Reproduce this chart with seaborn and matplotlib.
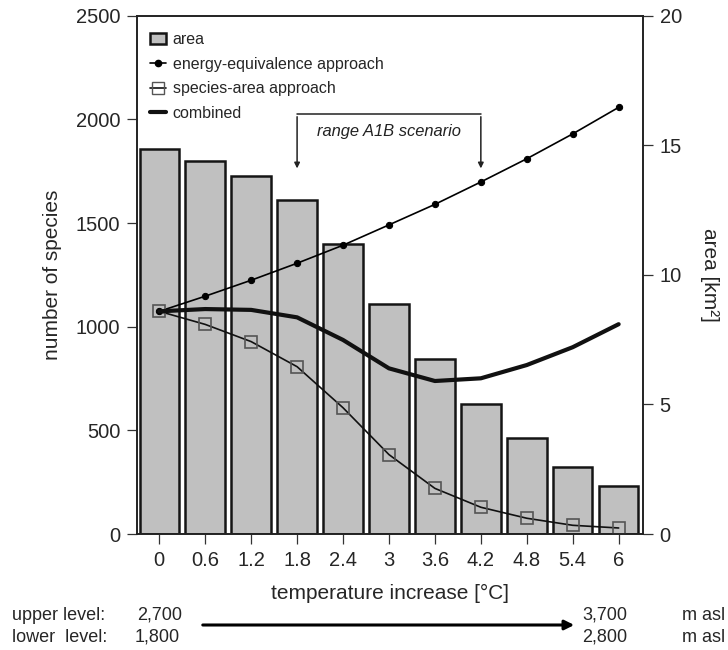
import numpy as np
import pandas as pd
import matplotlib
matplotlib.use("Agg")
import matplotlib.pyplot as plt
from matplotlib.lines import Line2D
from matplotlib.patches import Patch
import seaborn as sns

## Data
temps = [0, 0.6, 1.2, 1.8, 2.4, 3, 3.6, 4.2, 4.8, 5.4, 6]
temp_labels = ["0", "0.6", "1.2", "1.8", "2.4", "3", "3.6", "4.2", "4.8", "5.4", "6"]
area_km2 = [14.85, 14.40, 13.80, 12.89, 11.20, 8.87, 6.74, 5.02, 3.69, 2.59, 1.86]
energy_equiv = [1074, 1147, 1224, 1306, 1393, 1491, 1590, 1698, 1810, 1930, 2058]
species_area = [1074, 1011, 928, 807, 609, 383, 220, 129, 76, 42, 29]
combined = [1074, 1085, 1081, 1045, 936, 799, 738, 751, 815, 901, 1012]

df = pd.DataFrame({"temp": temps, "area": area_km2, "energy": energy_equiv,
                   "sa": species_area, "comb": combined})

sns.set_style("ticks")
plt.rcParams["font.family"] = ["Liberation Sans", "DejaVu Sans"]

fig = plt.figure(figsize=(7.28, 6.5), dpi=100)
ax = fig.add_axes([137 / 728, 1 - 534 / 650, (643 - 137) / 728, (534 - 15.7) / 650])
ax2 = ax.twinx()

# bars (area) on right axis
sns.barplot(data=df, x="temp", y="area", ax=ax2, native_scale=True, width=0.86,
            color="#c0c0c0", saturation=1, edgecolor="#151515", linewidth=1.8)
ax2.set_ylim(0, 20)
ax2.set_yticks([0, 5, 10, 15, 20])
ax2.set_ylabel("area [km²]", fontsize=15, rotation=270, labelpad=27)

# lines on left axis, drawn above bars
ax.set_zorder(ax2.get_zorder() + 1)
ax.patch.set_visible(False)
sns.lineplot(data=df, x="temp", y="energy", ax=ax, color="black", lw=1.2,
             marker="o", markersize=4.5, markeredgecolor="black")
sns.lineplot(data=df, x="temp", y="sa", ax=ax, color="#111111", lw=1.2,
             marker="s", markersize=9, markerfacecolor="none",
             markeredgecolor="#555555", markeredgewidth=1.2)
sns.lineplot(data=df, x="temp", y="comb", ax=ax, color="#111111", lw=3)

ax.set_ylim(0, 2500)
ax.set_yticks([0, 500, 1000, 1500, 2000, 2500])
ax.set_xlim(-0.291, 6.318)
ax.set_xticks(temps)
ax.set_xticklabels(temp_labels)
ax.set_ylabel("number of species", fontsize=15, labelpad=10)
ax.set_xlabel("temperature increase [°C]", fontsize=15, labelpad=10)

for a in (ax, ax2):
    a.tick_params(labelsize=14.5, length=7, width=0.9, color="#333333", pad=5)
    for s in a.spines.values():
        s.set_visible(True)
        s.set_linewidth(1.2)
        s.set_color("#222222")
ax.tick_params(axis="x", pad=5)

# range A1B bracket
ax.annotate("", xy=(1.8, 1750), xytext=(1.8, 2026),
            arrowprops=dict(arrowstyle="-|>", color="#222222", lw=1.1, mutation_scale=8))
ax.annotate("", xy=(4.2, 1750), xytext=(4.2, 2026),
            arrowprops=dict(arrowstyle="-|>", color="#222222", lw=1.1, mutation_scale=8))
ax.plot([1.8, 4.2], [2026, 2026], color="#222222", lw=1.1)
ax.text(3.0, 1940, "range A1B scenario", style="italic", fontsize=11.9,
        ha="center", va="center", color="#222222")

# legend
handles = [
    Patch(facecolor="#c0c0c0", edgecolor="#151515", linewidth=1.8, label="area"),
    Line2D([], [], color="black", lw=1.2, marker="o", markersize=4.5,
           label="energy-equivalence approach"),
    Line2D([], [], color="#111111", lw=1.2, marker="s", markersize=9,
           markerfacecolor="none", markeredgecolor="#555555",
           label="species-area approach"),
    Line2D([], [], color="#111111", lw=3, label="combined"),
]
ax.legend(handles=handles, loc="upper left", frameon=False, fontsize=11.5,
          handlelength=1.0, handletextpad=0.4, labelspacing=0.6,
          borderaxespad=0.3, bbox_to_anchor=(0.004, 0.99))

# elevation annotation below the axis
fs = 13
fig.text(12 / 728, 1 - 615 / 650, "upper level:", fontsize=fs, va="center")
fig.text(12 / 728, 1 - 637 / 650, "lower  level:", fontsize=fs, va="center")
fig.text(182 / 728, 1 - 615 / 650, "2,700", fontsize=fs, va="center", ha="right")
fig.text(180 / 728, 1 - 637 / 650, "1,800", fontsize=fs, va="center", ha="right")
fig.text(582 / 728, 1 - 615 / 650, "3,700", fontsize=fs, va="center")
fig.text(582 / 728, 1 - 637 / 650, "2,800", fontsize=fs, va="center")
fig.text(725 / 728, 1 - 615 / 650, "m asl", fontsize=fs, va="center", ha="right")
fig.text(725 / 728, 1 - 637 / 650, "m asl", fontsize=fs, va="center", ha="right")
fig.patches.append(matplotlib.patches.FancyArrowPatch(
    (200 / 728, 1 - 625 / 650), (577 / 728, 1 - 625 / 650),
    transform=fig.transFigure, arrowstyle="-|>", mutation_scale=14,
    color="black", lw=2.2))

fig.savefig("out.png", dpi=100)
